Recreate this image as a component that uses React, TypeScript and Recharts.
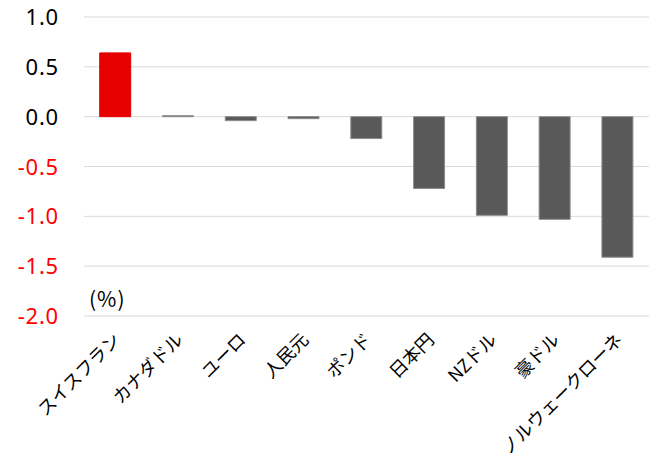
import React from 'react';
import { BarChart, Bar, XAxis, YAxis, CartesianGrid, Cell } from 'recharts';

const categories = ['スイスフラン', 'カナダドル', 'ユーロ', '人民元', 'ポンド', '日本円', 'NZドル', '豪ドル', 'ノルウェークローネ'];
const values = [0.64, 0.01, -0.04, -0.02, -0.22, -0.72, -0.99, -1.03, -1.41];
const yTicks = [1.0, 0.5, 0.0, -0.5, -1.0, -1.5, -2.0];

const data = categories.map((name, i) => ({ name, value: values[i] }));
const FONT = '"Noto Sans CJK JP", "Noto Sans", sans-serif';
const NUM_FONT = '"Noto Sans", "DejaVu Sans", sans-serif';

const YTick = (props: any) => {
  const { x, y, payload } = props;
  const v = payload.value as number;
  return (
    <text x={x} y={y} dy={8} textAnchor="end" fontSize={22} letterSpacing={0.8} fontFamily={NUM_FONT} fill={v < 0 ? '#FF0000' : '#000000'}>
      {v.toFixed(1)}
    </text>
  );
};

const XTick = (props: any) => {
  const { x, payload } = props;
  const ax = x + 6;
  const ay = 341;
  return (
    <text x={ax} y={ay} textAnchor="end" fontSize={18} fontFamily={FONT} fill="#000" transform={`rotate(-45, ${ax}, ${ay})`}>
      {payload.value}
    </text>
  );
};

export default function App() {
  return (
    <div style={{ position: 'absolute', left: 0, top: 0, background: '#fff' }}>
      <BarChart width={653} height={464} data={data} margin={{ top: 17, right: 4, bottom: 0, left: 0 }} barCategoryGap="25%">
        <CartesianGrid vertical={false} stroke="#d9d9d9" strokeWidth={1} />
        <XAxis dataKey="name" axisLine={false} tickLine={false} tick={<XTick />} interval={0} height={148} />
        <YAxis
          domain={[-2, 1]}
          ticks={yTicks}
          axisLine={false}
          tickLine={false}
          width={84}
          tickSize={0}
          tickMargin={25}
          tick={<YTick />}
          interval={0}
        />
        <Bar dataKey="value" isAnimationActive={false} strokeWidth={1}>
          {data.map((d, i) => (
            <Cell key={i} fill={i === 0 ? '#E60000' : '#595959'} stroke={i === 0 ? '#E60000' : '#8c8c8c'} />
          ))}
        </Bar>
      </BarChart>
      <div style={{ position: 'absolute', left: 89, top: 283, fontSize: 21, letterSpacing: 1, fontFamily: FONT, color: '#000' }}>(%)</div>
    </div>
  );
}
